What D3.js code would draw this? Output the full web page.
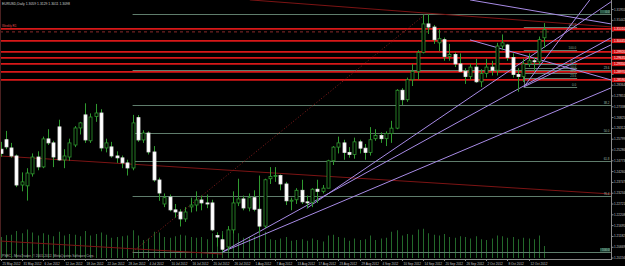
<!DOCTYPE html>
<html><head><meta charset="utf-8">
<script src="https://cdn.jsdelivr.net/npm/d3@7"></script>
<style>html,body{margin:0;padding:0;background:#000;overflow:hidden}svg{display:block}</style>
</head><body><svg id="c" width="625" height="266"></svg>
<script>
// ---- data ----
const monthDays = [
  ["May", [25,28,29,30,31]],
  ["Jun", [1,4,5,6,7,8,11,12,13,14,15,18,19,20,21,22,25,26,27,28,29]],
  ["Jul", [2,3,4,5,6,9,10,11,12,13,16,17,18,19,20,23,24,25,26,27,30,31]],
  ["Aug", [1,2,3,6,7,8,9,10,13,14,15,16,17,20,21,22,23,24,27,28,29,30,31]],
  ["Sep", [3,4,5,6,7,10,11,12,13,14,17,18,19,20,21,24,25,26,27,28]],
  ["Oct", [1,2,3,4,5,8,9,10,11,12,15,16,17]]
];
const dates = monthDays.flatMap(([m, ds]) => ds.map(d => d + " " + m + " 2012"));

const open = [1.2530,1.2575,1.2536,1.2498,1.2360,1.2356,1.2413,1.2493,1.2446,1.2579,1.2560,1.2636,1.2479,1.2493,1.2550,1.2631,1.2693,1.2570,1.2685,1.2702,1.2536,1.2541,1.2498,1.2489,1.2465,1.2441,
1.2680,1.2574,1.2607,1.2517,1.2384,1.2270,1.2303,1.2242,1.2232,1.2199,1.2256,1.2265,1.2289,1.2275,1.2275,1.2120,1.2100,1.2066,1.2147,1.2275,1.2294,1.2251,
1.2300,1.2245,1.2165,1.2390,1.2400,1.2405,1.2365,1.2285,1.2290,1.2335,1.2280,1.2278,1.2340,1.2330,1.2345,1.2475,1.2540,1.2560,1.2515,1.2505,1.2565,1.2535,1.2515,
1.2580,1.2595,1.2580,1.2605,1.2630,1.2810,1.2765,1.2860,1.2900,1.2990,1.3125,1.3110,1.3035,1.3050,1.2970,1.2980,1.2935,1.2900,1.2875,1.2920,
1.2850,1.2890,1.2920,1.2905,1.3020,1.3025,1.2965,1.2885,1.2875,1.2935,1.2950,1.2945,1.3059];
const high = [1.2565,1.2617,1.2560,1.2505,1.2420,1.2440,1.2510,1.2520,1.2590,1.2625,1.2570,1.2670,1.2530,1.2580,1.2640,1.2660,1.2748,1.2700,1.2745,1.2720,1.2580,1.2565,1.2520,1.2500,1.2480,1.2693,
1.2692,1.2620,1.2615,1.2545,1.2395,1.2320,1.2315,1.2270,1.2245,1.2255,1.2300,1.2330,1.2310,1.2315,1.2290,1.2135,1.2125,1.2165,1.2330,1.2390,1.2310,1.2320,
1.2335,1.2405,1.2390,1.2445,1.2445,1.2410,1.2375,1.2300,1.2345,1.2385,1.2310,1.2345,1.2385,1.2360,1.2480,1.2545,1.2590,1.2575,1.2540,1.2585,1.2575,1.2555,1.2635,
1.2625,1.2610,1.2615,1.2665,1.2815,1.2820,1.2870,1.2935,1.3000,1.3169,1.3172,1.3120,1.3100,1.3060,1.3030,1.2990,1.2985,1.2915,1.2935,1.2960,
1.2910,1.2960,1.2950,1.3035,1.3075,1.3030,1.2985,1.2915,1.2960,1.2985,1.2965,1.3065,1.3129];
const low = [1.2495,1.2530,1.2490,1.2350,1.2330,1.2286,1.2400,1.2430,1.2440,1.2550,1.2445,1.2475,1.2440,1.2475,1.2540,1.2600,1.2560,1.2560,1.2660,1.2520,1.2515,1.2490,1.2465,1.2440,1.2405,1.2430,
1.2565,1.2560,1.2505,1.2375,1.2285,1.2255,1.2235,1.2205,1.2163,1.2185,1.2230,1.2235,1.2240,1.2250,1.2140,1.2068,1.2042,1.2045,1.2130,1.2260,1.2240,1.2235,
1.2235,1.2135,1.2155,1.2365,1.2375,1.2335,1.2265,1.2240,1.2270,1.2270,1.2250,1.2255,1.2275,1.2320,1.2345,1.2455,1.2510,1.2480,1.2490,1.2485,1.2510,1.2480,1.2500,
1.2570,1.2560,1.2545,1.2560,1.2625,1.2740,1.2755,1.2830,1.2860,1.2985,1.3077,1.3030,1.2995,1.2950,1.2950,1.2920,1.2895,1.2840,1.2860,1.2845,
1.2825,1.2870,1.2880,1.2880,1.3000,1.2950,1.2870,1.2803,1.2850,1.2920,1.2900,1.2935,1.3011];
const close = [1.2510,1.2541,1.2498,1.2360,1.2375,1.2417,1.2493,1.2446,1.2579,1.2560,1.2493,1.2479,1.2498,1.2560,1.2631,1.2655,1.2574,1.2683,1.2702,1.2536,1.2560,1.2498,1.2489,1.2465,1.2441,1.2655,
1.2574,1.2607,1.2517,1.2384,1.2322,1.2300,1.2242,1.2232,1.2199,1.2232,1.2265,1.2289,1.2275,1.2270,1.2147,1.2113,1.2055,1.2147,1.2275,1.2294,1.2251,1.2300,
1.2245,1.2165,1.2385,1.2400,1.2405,1.2365,1.2285,1.2288,1.2335,1.2280,1.2278,1.2340,1.2330,1.2345,1.2475,1.2540,1.2560,1.2515,1.2505,1.2565,1.2535,1.2515,1.2575,
1.2595,1.2580,1.2605,1.2630,1.2810,1.2765,1.2860,1.2900,1.2990,1.3125,1.3110,1.3050,1.3055,1.2970,1.2980,1.2935,1.2900,1.2875,1.2920,1.2850,
1.2890,1.2920,1.2905,1.3020,1.3035,1.2965,1.2885,1.2875,1.2935,1.2950,1.2945,1.3050,1.3098];
const volume = [28000,30500,31000,36000,33000,
38000,34000,30000,33000,31000,29000,35000,30000,32000,31000,29000,36000,30000,32000,34000,31000,27000,28000,29000,30000,37000,
30000,24000,26000,35000,34000,28000,27000,29000,31000,30000,28000,27000,28000,25000,33000,34000,36000,32000,38000,33000,27000,28000,
29000,36000,35000,25000,24000,26000,28000,23000,24000,25000,23000,26000,24000,22000,30000,31000,28000,27000,23000,26000,24000,25000,30000,
24000,26000,27000,35000,37000,30000,32000,31000,38000,39000,33000,31000,30000,32000,28000,27000,29000,28000,26000,29000,
25000,24000,26000,30000,29000,27000,28000,25000,27000,26000,25000,30000,16000];

const dateLabels = ["25 May 2012","31 May 2012","6 Jun 2012","12 Jun 2012","18 Jun 2012","22 Jun 2012","28 Jun 2012","4 Jul 2012","10 Jul 2012","16 Jul 2012","20 Jul 2012","26 Jul 2012","1 Aug 2012","7 Aug 2012","13 Aug 2012","17 Aug 2012","23 Aug 2012","29 Aug 2012","4 Sep 2012","10 Sep 2012","14 Sep 2012","20 Sep 2012","26 Sep 2012","2 Oct 2012","8 Oct 2012","12 Oct 2012"];
const priceTicks = [1.31955,1.31442,1.30929,1.30416,1.29903,1.29390,1.28877,1.28364,1.27851,1.27338,1.26825,1.26312,1.25799,1.25286,1.24773,1.24260,1.23747,1.23234,1.22721,1.22208,1.21695,1.21182,1.20669,1.20156];
const redLevels = [1.31010,1.30445,1.29920,1.29635,1.29350,1.28970,1.28590];
const dashedLevel = [1.30870];

const fiboLevels = [0, 23.6, 38.2, 50.0, 61.8, 76.4, 100.0];
const fiboAnchor = {i0: 25, i1: 80.5, p0: 1.3172, p100: 1.2042};
const smallFiboLevels = [0, 23.6, 38.2, 50.0, 61.8, 100.0, 161.8];
const smallFiboAnchor = {i0: 99.1, i1: 109.2, p0: 1.28258, p100: 1.30015};

// purple trend lines [i1, p1, i2, p2]
const purpleLines = [
  [42, 1.2042, 115.6, 1.28210],
  [42, 1.2042, 115.6, 1.30585],
  [58, 1.2250, 115.6, 1.32295],
  [99.1, 1.28258, 111.6, 1.32390],
  [99.1, 1.28258, 115.6, 1.30253],
  [88.9, 1.32390, 115.6, 1.31250],
  [88.9, 1.30490, 115.6, 1.28590]
];
// dark red trend lines
const darkRedLines = [
  [47.2, 1.32390, 115.6, 1.31108],
  [-0.2, 1.24980, 115.6, 1.23176],
  [-0.2, 1.20943, 42, 1.20325]
];
const title = "EURUSD,Daily  1.3059 1.3129 1.3011 1.3098";
const copyright = "PSEC - MetaTrader, \u00a9 2001-2012, MetaQuotes Software Corp.";

// ---- drawing ----
const W = 625, H = 266, plotR = 611, plotB = 259;
const svg = d3.select("#c");
svg.append("rect").attr("width", W).attr("height", H).attr("fill", "#000");

const x = d3.scaleLinear().domain([0, 103]).range([0.6, 544.4]);
const y = d3.scaleLinear().domain([1.2042, 1.3172]).range([252, 14]);
const v = d3.scaleLinear().domain([0, 40000]).range([258, 228]);

svg.append("clipPath").attr("id", "clip").append("rect").attr("x", 0).attr("y", 0).attr("width", plotR).attr("height", plotB);
const g = svg.append("g").attr("clip-path", "url(#clip)");
const fnt = "'Liberation Sans', Arial, sans-serif";

// volumes
g.selectAll(".vol").data(volume).join("line")
  .attr("x1", (d, i) => Math.round(x(i)) + 0.5).attr("x2", (d, i) => Math.round(x(i)) + 0.5)
  .attr("y1", v(0)).attr("y2", d => v(d))
  .attr("stroke", "#23682a").attr("stroke-width", 1);

// red horizontal levels
g.selectAll(".red").data(redLevels).join("line")
  .attr("x1", 0).attr("x2", plotR).attr("y1", d => y(d)).attr("y2", d => y(d))
  .attr("stroke", "#d81818").attr("stroke-width", 1.8);
g.selectAll(".dash").data(dashedLevel).join("line")
  .attr("x1", 0).attr("x2", plotR).attr("y1", d => y(d)).attr("y2", d => y(d))
  .attr("stroke", "#8a2a2a").attr("stroke-width", 1).attr("stroke-dasharray", "3,3");

// main fibo levels
const fp = L => fiboAnchor.p0 + (fiboAnchor.p100 - fiboAnchor.p0) * L / 100;
g.selectAll(".fib").data(fiboLevels).join("line")
  .attr("x1", x(fiboAnchor.i0)).attr("x2", plotR)
  .attr("y1", d => Math.round(y(fp(d))) + 0.5).attr("y2", d => Math.round(y(fp(d))) + 0.5)
  .attr("stroke", "#5f7d6c").attr("stroke-width", 1);
// fibo anchor (dotted)
g.append("line")
  .attr("x1", x(fiboAnchor.i0)).attr("y1", y(fiboAnchor.p100))
  .attr("x2", x(fiboAnchor.i1)).attr("y2", y(fiboAnchor.p0))
  .attr("stroke", "#8a1e1e").attr("stroke-width", 1).attr("stroke-dasharray", "1,2");

// small fibo
const sp = L => smallFiboAnchor.p0 + (smallFiboAnchor.p100 - smallFiboAnchor.p0) * L / 100;
g.selectAll(".sfib").data(smallFiboLevels).join("line")
  .attr("x1", x(smallFiboAnchor.i0)).attr("x2", x(smallFiboAnchor.i1))
  .attr("y1", d => Math.round(y(sp(d))) + 0.5).attr("y2", d => Math.round(y(sp(d))) + 0.5)
  .attr("stroke", "#5f7d6c").attr("stroke-width", 1);
g.append("line")
  .attr("x1", Math.round(x(smallFiboAnchor.i0)) + 0.5).attr("x2", Math.round(x(smallFiboAnchor.i0)) + 0.5)
  .attr("y1", y(sp(0))).attr("y2", y(sp(50)))
  .attr("stroke", "#5f7d6c").attr("stroke-width", 1);
g.selectAll(".sfibt").data(smallFiboLevels).join("text")
  .attr("x", x(smallFiboAnchor.i1) - 1).attr("y", d => y(sp(d)) - 0.8)
  .attr("text-anchor", "end").attr("font-family", fnt).attr("font-size", 3)
  .attr("fill", "#8fae9c").text(d => d.toFixed(1));

// dark red trend lines
g.selectAll(".drl").data(darkRedLines).join("line")
  .attr("x1", d => x(d[0])).attr("y1", d => y(d[1])).attr("x2", d => x(d[2])).attr("y2", d => y(d[3]))
  .attr("stroke", "#7c1414").attr("stroke-width", 1);

// purple lines
g.selectAll(".pl").data(purpleLines).join("line")
  .attr("x1", d => x(d[0])).attr("y1", d => y(d[1])).attr("x2", d => x(d[2])).attr("y2", d => y(d[3]))
  .attr("stroke", "#a88be6").attr("stroke-width", 1);

// candles
const bars = d3.range(dates.length);
g.selectAll(".wick").data(bars).join("line")
  .attr("x1", i => Math.round(x(i)) + 0.5).attr("x2", i => Math.round(x(i)) + 0.5)
  .attr("y1", i => y(high[i])).attr("y2", i => y(low[i]))
  .attr("stroke", "#2f9a2f").attr("stroke-width", 1);
g.selectAll(".body").data(bars).join("rect")
  .attr("x", i => Math.round(x(i)) - 1)
  .attr("width", 3)
  .attr("y", i => y(Math.max(open[i], close[i])))
  .attr("height", i => Math.max(1, y(Math.min(open[i], close[i])) - y(Math.max(open[i], close[i]))))
  .attr("fill", i => close[i] >= open[i] ? "#000" : "#fff")
  .attr("stroke", i => close[i] >= open[i] ? "#2f9a2f" : "#e8e8e8")
  .attr("stroke-width", 0.8);

// fibo labels (main)
const fl = svg.append("g");
fiboLevels.forEach(L => {
  const yy = y(fp(L));
  if (L === 0 || L === 100) {
    fl.append("rect").attr("x", 600).attr("y", yy - 4).attr("width", 10).attr("height", 3.6).attr("fill", "#2c5a48");
  }
  fl.append("text").attr("x", 609.5).attr("y", yy - 1).attr("text-anchor", "end")
    .attr("font-family", fnt).attr("font-size", 3).attr("fill", "#9cbcaa").text(L.toFixed(1));
});

// axes
svg.append("line").attr("x1", plotR + 0.5).attr("x2", plotR + 0.5).attr("y1", 0).attr("y2", plotB)
  .attr("stroke", "#8a8a8a").attr("stroke-width", 1);
svg.append("line").attr("x1", 0).attr("x2", plotR + 1).attr("y1", plotB + 0.5).attr("y2", plotB + 0.5)
  .attr("stroke", "#8a8a8a").attr("stroke-width", 1);
svg.append("line").attr("x1", 0.5).attr("x2", 0.5).attr("y1", 0).attr("y2", plotB)
  .attr("stroke", "#4a2020").attr("stroke-width", 1);

// price ticks; labels hidden where a red level box covers them (as in the reference)
const covered = p => redLevels.some(r => Math.abs(y(r) - y(p)) < 4.6);
const yAxis = d3.axisRight(y).tickValues(priceTicks).tickSize(2)
  .tickFormat(d => covered(d) ? "" : d3.format(".5f")(d));
const ya = svg.append("g").attr("transform", `translate(${plotR + 0.5},0)`).call(yAxis);
ya.select(".domain").remove();
ya.selectAll("line").attr("stroke", "#8a8a8a");
ya.selectAll("text").attr("font-family", fnt).attr("font-size", 3.1).attr("fill", "#c4c4c4").attr("x", 2.5);

// red level price boxes
const rl = svg.append("g");
redLevels.forEach(p => {
  rl.append("rect").attr("x", plotR + 1).attr("y", y(p) - 2.2).attr("width", 14).attr("height", 4.4).attr("fill", "#d81010");
  rl.append("text").attr("x", plotR + 3).attr("y", y(p) + 1.1).attr("font-family", fnt).attr("font-size", 3.1)
    .attr("fill", "#fff").text(p.toFixed(5));
});

// date axis
const dg = svg.append("g");
dateLabels.forEach(lbl => {
  const i = dates.indexOf(lbl);
  if (i < 0) return;
  const xx = Math.round(x(i)) + 0.5;
  dg.append("line").attr("x1", xx).attr("x2", xx).attr("y1", plotB).attr("y2", plotB + 2).attr("stroke", "#8a8a8a");
  dg.append("text").attr("x", xx + 1).attr("y", 264.5).attr("font-family", fnt).attr("font-size", 3.1)
    .attr("fill", "#c4c4c4").text(lbl);
});

// texts
svg.append("text").attr("x", 2).attr("y", 5).attr("font-family", fnt).attr("font-size", 3.4).attr("fill", "#d0d0d0").text(title);
svg.append("text").attr("x", 2).attr("y", 257).attr("font-family", fnt).attr("font-size", 3.3).attr("fill", "#b0b0b0").text(copyright);
svg.append("text").attr("x", 2).attr("y", y(redLevels[0]) - 1.5).attr("font-family", fnt).attr("font-size", 3).attr("fill", "#e05050").text("Weekly R1");
</script>
</body></html>
